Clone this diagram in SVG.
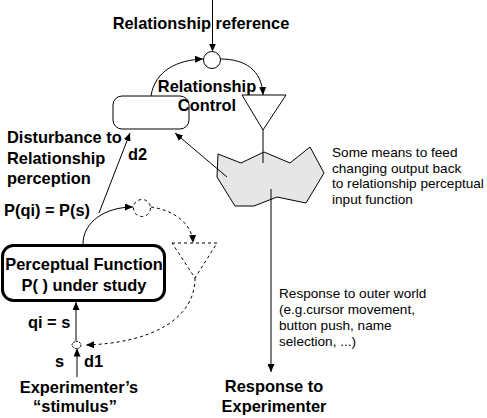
<svg xmlns="http://www.w3.org/2000/svg" width="487" height="418" viewBox="0 0 487 418">
<style>
.b{font-family:"Liberation Sans",Arial,sans-serif;font-weight:bold;font-size:16.4px;fill:#000}
.n{font-family:"Liberation Sans",Arial,sans-serif;font-size:13.6px;fill:#000}
.ln{fill:none;stroke:#000;stroke-width:1}
.ds{fill:none;stroke:#000;stroke-width:1;stroke-dasharray:3,3}
</style>
<defs>
<marker id="ah" markerUnits="userSpaceOnUse" markerWidth="9" markerHeight="7" refX="8" refY="3.5" orient="auto">
<path d="M0,0 L8,3.5 L0,7 z" fill="#000"/>
</marker>
</defs>
<rect width="487" height="418" fill="#fff"/>

<g id="relationship-reference">
<text class="b" x="201" y="29" text-anchor="middle">Relationship reference</text>
</g>
<g id="comparator">
<circle class="ln" cx="212" cy="60" r="8.5"/>
</g>
<g id="output-function">
<path class="ln" d="M242,95 L286,95 L263,130 Z"/>
</g>
<g id="relationship-control">
<rect class="ln" x="113" y="96" width="76" height="33" rx="9"/>
<text class="b" x="207" y="92" text-anchor="middle">Relationship</text>
<text class="b" x="207" y="111" text-anchor="middle">Control</text>
</g>
<g id="environment">
<path d="M218,154 L241,163 L264,152 L290,163 L310,147 L324,173 L306,203 L277,197 L254,206 L235,206 L217,177 Z" fill="#e6e6e6" stroke="#000" stroke-width="1"/>
<text class="n" x="332" y="157">Some means to feed</text>
<text class="n" x="332" y="172.5">changing output back</text>
<text class="n" x="332" y="188">to relationship perceptual</text>
<text class="n" x="332" y="203.5">input function</text>
</g>
<g id="disturbance-label">
<text class="b" x="7" y="143">Disturbance to</text>
<text class="b" x="7" y="163.5">Relationship</text>
<text class="b" x="7" y="184">perception</text>
<text class="b" x="128" y="160">d2</text>
</g>
<g id="perception-label">
<text class="b" x="4" y="215.5">P(qi) = P(s)</text>
</g>
<g id="dashed-comparator">
<circle class="ds" cx="142" cy="208" r="8.5"/>
</g>
<g id="dashed-output">
<path class="ds" d="M172,243 L217,243 L195,278 Z"/>
</g>
<g id="perceptual-function">
<rect x="2.5" y="245.5" width="162" height="55" rx="11" fill="none" stroke="#000" stroke-width="3"/>
<text class="b" x="84" y="270" text-anchor="middle">Perceptual Function</text>
<text class="b" x="84" y="290.5" text-anchor="middle">P( ) under study</text>
</g>
<g id="input-junction">
<ellipse cx="76.5" cy="345" rx="4.5" ry="3.5" fill="none" stroke="#000" stroke-width="1" stroke-dasharray="2,1"/>
<text class="b" x="28" y="328">qi = s</text>
<text class="b" x="55" y="367">s</text>
<text class="b" x="84" y="367">d1</text>
</g>
<g id="stimulus">
<text class="b" x="79" y="393" text-anchor="middle">Experimenter’s</text>
<text class="b" x="75" y="412" text-anchor="middle">“stimulus”</text>
</g>
<g id="response">
<text class="n" x="279" y="298">Response to outer world</text>
<text class="n" x="279" y="314">(e.g.cursor movement,</text>
<text class="n" x="279" y="330">button push, name</text>
<text class="n" x="279" y="345.5">selection, ...)</text>
<text class="b" x="274" y="392" text-anchor="middle">Response to</text>
<text class="b" x="274" y="412" text-anchor="middle">Experimenter</text>
</g>

<g id="connectors">
<line class="ln" x1="212.5" y1="0" x2="212.5" y2="51.5" marker-end="url(#ah)"/>
<path class="ln" d="M151,96 C155,70 178,60 203,59" marker-end="url(#ah)"/>
<path class="ln" d="M220.5,59 C245,59 262,70 263,95" marker-end="url(#ah)"/>
<line class="ln" x1="263" y1="130" x2="263" y2="163"/>
<line class="ln" x1="227" y1="177" x2="175" y2="133" marker-end="url(#ah)"/>
<line class="ln" x1="271" y1="189" x2="271" y2="372" marker-end="url(#ah)"/>
<path class="ln" d="M83,244 C83,222 105,207 133,207" marker-end="url(#ah)"/>
<line class="ln" x1="99" y1="213" x2="130" y2="133" marker-end="url(#ah)"/>
<path class="ds" d="M151,207 C172,210 192,222 193,243" marker-end="url(#ah)"/>
<path class="ds" d="M195,278 C195,320 150,343 86,345" marker-end="url(#ah)"/>
<line class="ln" x1="76" y1="341.5" x2="76" y2="302" marker-end="url(#ah)"/>
<line class="ln" x1="77" y1="377" x2="77" y2="348.5" marker-end="url(#ah)"/>
</g>
</svg>
